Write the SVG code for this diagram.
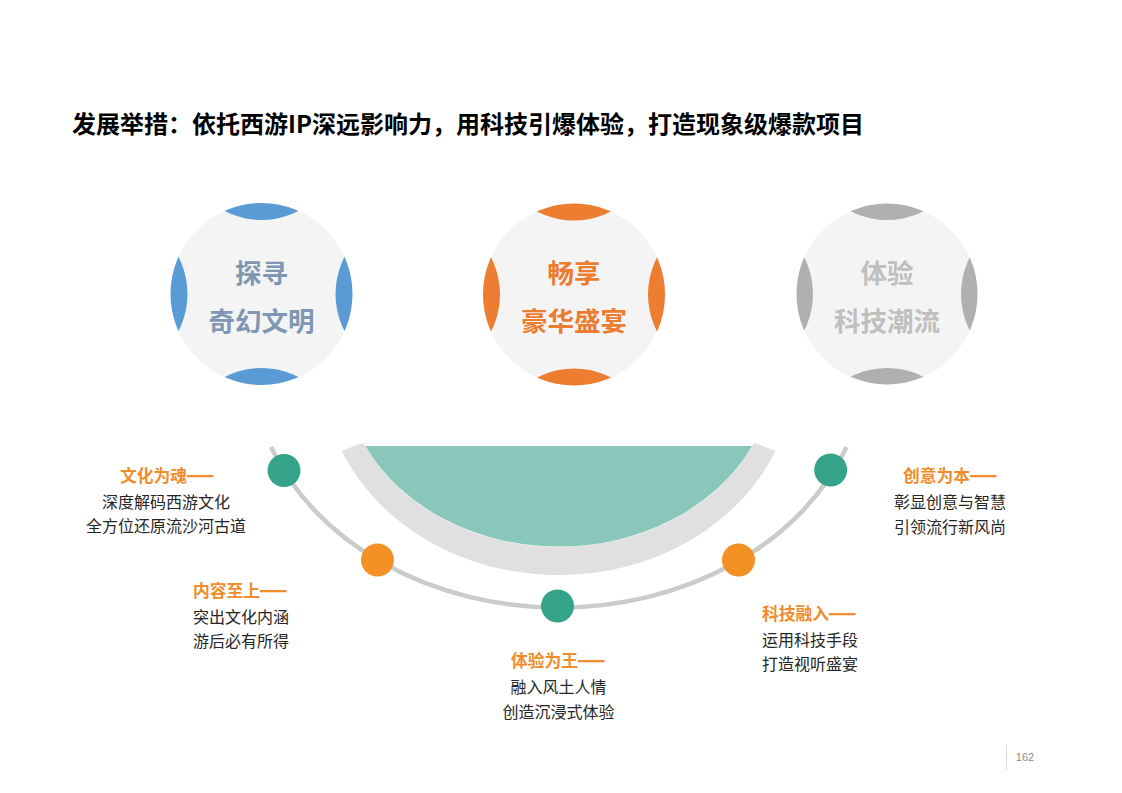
<svg xmlns="http://www.w3.org/2000/svg" width="1122" height="793" viewBox="0 0 1122 793">
<style>
.cjk{font-family:"Noto Sans CJK SC","Noto Sans",sans-serif}
.title{font-size:24px;font-weight:700;fill:#000}
.ctext{font-size:26.5px;font-weight:700;text-anchor:middle}
.head{font-size:16.8px;font-weight:700;fill:#F18C2A}
.dash{font-family:"Liberation Sans",Arial,sans-serif;font-size:17px;font-weight:700;fill:#F18C2A;stroke:#F18C2A;stroke-width:0.7px}
.body{font-size:16px;fill:#262626}
.mid{text-anchor:middle}
.dotg{fill:#35A38A}
.doto{fill:#F39125}
</style>
<defs>
<clipPath id="c1"><circle cx="261.5" cy="294" r="91"/></clipPath>
<clipPath id="c2"><circle cx="574" cy="294.5" r="91"/></clipPath>
<clipPath id="c3"><circle cx="887" cy="294" r="90.5"/></clipPath>
</defs>
<rect width="1122" height="793" fill="#fff"/>
<text class="cjk title" x="72" y="133">发展举措：依托西游IP深远影响力，用科技引爆体验，打造现象级爆款项目</text>

<g id="circle1">
<circle cx="261.5" cy="294" r="91" fill="#F4F4F4"/>
<g clip-path="url(#c1)" fill="#5B9BD5">
<circle cx="261.5" cy="139" r="81"/><circle cx="261.5" cy="449" r="81"/>
<circle cx="106.5" cy="294" r="81"/><circle cx="416.5" cy="294" r="81"/>
</g>
<text class="cjk ctext" x="261.5" y="283" fill="#7F97B3">探寻</text>
<text class="cjk ctext" x="261.5" y="331" fill="#7F97B3">奇幻文明</text>
</g>

<g id="circle2">
<circle cx="574" cy="294.5" r="91" fill="#F4F4F4"/>
<g clip-path="url(#c2)" fill="#ED7D31">
<circle cx="574" cy="139.5" r="81"/><circle cx="574" cy="449.5" r="81"/>
<circle cx="419" cy="294.5" r="81"/><circle cx="729" cy="294.5" r="81"/>
</g>
<text class="cjk ctext" x="574" y="283" fill="#EC7C30">畅享</text>
<text class="cjk ctext" x="574" y="331" fill="#EC7C30">豪华盛宴</text>
</g>

<g id="circle3">
<circle cx="887" cy="294" r="90.5" fill="#F4F4F4"/>
<g clip-path="url(#c3)" fill="#B0B0B0">
<circle cx="887" cy="139" r="81"/><circle cx="887" cy="449" r="81"/>
<circle cx="732" cy="294" r="81"/><circle cx="1042" cy="294" r="81"/>
</g>
<text class="cjk ctext" x="887" y="283" fill="#BFBFBF">体验</text>
<text class="cjk ctext" x="887" y="331" fill="#BFBFBF">科技潮流</text>
</g>

<g id="bowl">
<path d="M341.7 450.7 A236 205 0 0 0 775.7 450.7 L754.1 442.7 A214.3 177 0 0 1 363.3 442.7 Z" fill="#E0E0E0"/>
<path d="M365.4 446 A214.3 177 0 0 0 752 446 Z" fill="#88C7B9"/>
</g>

<g id="connectors">
<path d="M271 447 A307.5 248 0 0 0 846.6 447" fill="none" stroke="#CBCBCB" stroke-width="4.5"/>
</g>

<g id="dot1"><circle class="dotg" cx="284" cy="470.5" r="16.5"/></g>
<g id="dot2"><circle class="doto" cx="377.5" cy="560" r="16.5"/></g>
<g id="dot3"><circle class="dotg" cx="557.5" cy="606" r="16.5"/></g>
<g id="dot4"><circle class="doto" cx="738.5" cy="560" r="16.5"/></g>
<g id="dot5"><circle class="dotg" cx="830.7" cy="470" r="16.5"/></g>

<g id="label1">
<text class="cjk head" x="120" y="482">文化为魂</text>
<text class="dash" transform="translate(187.5,481) scale(1.5,1)">—</text>
<text class="cjk body mid" x="166" y="508">深度解码西游文化</text>
<text class="cjk body mid" x="166" y="532">全方位还原流沙河古道</text>
</g>

<g id="label2">
<text class="cjk head" x="193" y="597">内容至上</text>
<text class="dash" transform="translate(260.5,596) scale(1.5,1)">—</text>
<text class="cjk body" x="193" y="623">突出文化内涵</text>
<text class="cjk body" x="193" y="647">游后必有所得</text>
</g>

<g id="label3">
<text class="cjk head" x="511" y="667">体验为王</text>
<text class="dash" transform="translate(578.5,666) scale(1.5,1)">—</text>
<text class="cjk body mid" x="558.5" y="693">融入风土人情</text>
<text class="cjk body mid" x="558.5" y="718">创造沉浸式体验</text>
</g>

<g id="label4">
<text class="cjk head" x="762" y="620">科技融入</text>
<text class="dash" transform="translate(829.5,619) scale(1.5,1)">—</text>
<text class="cjk body" x="762" y="646">运用科技手段</text>
<text class="cjk body" x="762" y="670">打造视听盛宴</text>
</g>

<g id="label5">
<text class="cjk head" x="903" y="482">创意为本</text>
<text class="dash" transform="translate(970.5,481) scale(1.5,1)">—</text>
<text class="cjk body mid" x="950" y="508">彰显创意与智慧</text>
<text class="cjk body mid" x="950" y="533">引领流行新风尚</text>
</g>

<line x1="1006.5" y1="744" x2="1006.5" y2="770" stroke="#D9D9D9" stroke-width="1"/>
<text x="1025" y="761" font-family="Liberation Sans, sans-serif" font-size="11" fill="#8C8C8C" text-anchor="middle">162</text>
</svg>
